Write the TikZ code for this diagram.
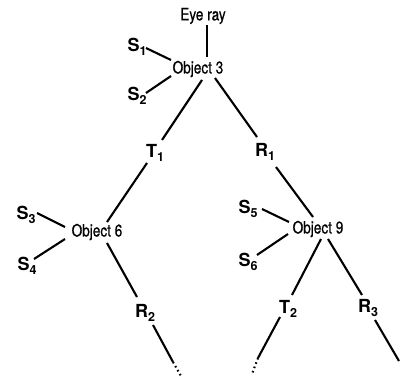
\documentclass[tikz,border=0pt]{standalone}
\usepackage{fontspec}
\setmainfont{TeX Gyre Heros}
\newfontfamily\labelfont[FakeStretch=0.8,FakeBold=0.7]{TeX Gyre Heros}
\usetikzlibrary{calc}
\tikzset{
  objnode/.style={font=\labelfont\fontsize{17}{18}\selectfont, inner sep=0pt},
  raylabel/.style={font=\fontsize{18}{19}\selectfont\bfseries, inner sep=0pt},
  ray/.style={line width=2.1pt},
  tail/.style={line width=2.1pt, dash pattern=on 1.6pt off 3pt},
}
\newcommand{\rl}[2]{#1\raisebox{-0.35ex}{\fontsize{12.5}{13}\selectfont #2}}
\begin{document}
\begin{tikzpicture}[x=1pt,y=-1pt]
  \useasboundingbox (0,0) rectangle (401,377);
  % text nodes
  \node[objnode] (eye)  at (203,16)  {Eye ray};
  \node[objnode] (obj3) at (198,69)  {Object 3};
  \node[objnode] (obj6) at (97,232)  {Object 6};
  \node[objnode] (obj9) at (318,229) {Object 9};
  \node[raylabel] (s1) at (137,47)  {\rl{S}{1}};
  \node[raylabel] (s2) at (137,96)  {\rl{S}{2}};
  \node[raylabel] (s3) at (26,215)  {\rl{S}{3}};
  \node[raylabel] (s4) at (27,266)  {\rl{S}{4}};
  \node[raylabel] (s5) at (248,209) {\rl{S}{5}};
  \node[raylabel] (s6) at (248,262) {\rl{S}{6}};
  \node[raylabel] (t1) at (155,153) {\rl{T}{1}};
  \node[raylabel] (r1) at (265,152) {\rl{R}{1}};
  \node[raylabel] (r2) at (145,313) {\rl{R}{2}};
  \node[raylabel] (t2) at (288,309) {\rl{T}{2}};
  \node[raylabel] (r3) at (368,308) {\rl{R}{3}};
  % loose ends of the tree
  \coordinate (e2) at (173,362);
  \coordinate (e2d) at (181,376);
  \coordinate (et2) at (258,358);
  \coordinate (et2d) at (252,374);
  \coordinate (er3) at (399,361);
  % eye ray into the first object
  \draw[ray] ([shift={(4,9)}]eye.center) -- ([shift={(9,-12)}]obj3.center);
  % shadow rays
  \draw[ray] ([shift={(9,1)}]s1.center) -- ([shift={(-27,-9)}]obj3.center);
  \draw[ray] ([shift={(9,-3)}]s2.center) -- ([shift={(-27,7)}]obj3.center);
  \draw[ray] ([shift={(11,-2)}]s3.center) -- ([shift={(-32,-5)}]obj6.center);
  \draw[ray] ([shift={(7,-7)}]s4.center) -- ([shift={(-32,7)}]obj6.center);
  \draw[ray] ([shift={(14,0)}]s5.center) -- ([shift={(-29,-7)}]obj9.center);
  \draw[ray] ([shift={(9,-7)}]s6.center) -- ([shift={(-30,5)}]obj9.center);
  % transmitted and reflected rays
  \draw[ray] ([shift={(4,11)}]obj3.center) -- ([shift={(7,-13)}]t1.center);
  \draw[ray] ([shift={(-8,10)}]t1.center) -- ([shift={(10,-10)}]obj6.center);
  \draw[ray] ([shift={(17,9)}]obj3.center) -- ([shift={(-8,-15)}]r1.center);
  \draw[ray] ([shift={(11,15)}]r1.center) -- ([shift={(-5,-12)}]obj9.center);
  \draw[ray] ([shift={(10,11)}]obj6.center) -- ([shift={(-8,-16)}]r2.center);
  \draw[ray] ([shift={(8,12)}]r2.center) -- (e2);
  \draw[tail] (e2) -- (e2d);
  \draw[ray] ([shift={(3,10)}]obj9.center) -- ([shift={(4,-14)}]t2.center);
  \draw[ray] ([shift={(-8,8)}]t2.center) -- (et2);
  \draw[tail] (et2) -- (et2d);
  \draw[ray] ([shift={(10,10)}]obj9.center) -- ([shift={(-6,-13)}]r3.center);
  \draw[ray] ([shift={(7,12)}]r3.center) -- (er3);
\end{tikzpicture}
\end{document}
